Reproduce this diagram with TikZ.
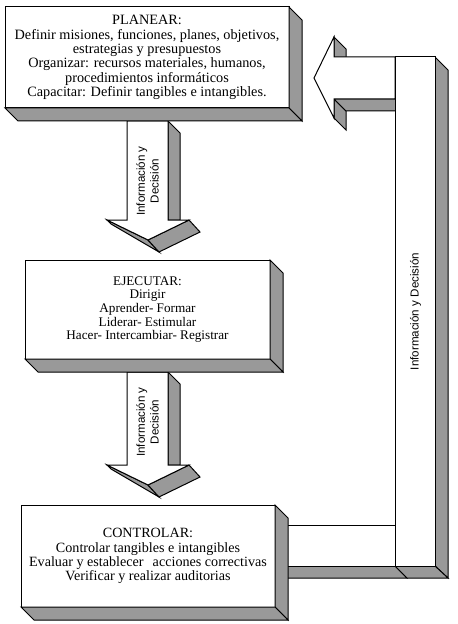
\documentclass[tikz,border=0pt]{standalone}
\usepackage{fontspec}
\setmainfont{Liberation Serif}
\newfontfamily\timesf{Liberation Serif}
\newfontfamily\arialf{Liberation Sans}
\usetikzlibrary{calc}
\definecolor{shade}{RGB}{153,153,153}
\pgfdeclarelayer{bg}\pgfsetlayers{bg,main}
\newcommand\extrudebox[1]{%
  \draw[sideface] (#1.north east) -- ++(13,13) -- ($(#1.south east)+(13,13)$) -- (#1.south east) -- cycle;
  \draw[sideface] (#1.south west) -- ($(#1.south west)+(13,13)$) -- ($(#1.south east)+(13,13)$) -- (#1.south east) -- cycle;}
\newcommand\blockdown[2]{% #1 = top centre, #2 = tip
  \draw[sideface] ($(#1)+(20.5,0)$) -- ($(#1)+(32.5,12)$) -- ($(#2)+(32,-20)$) -- ($(#2)+(20,-20)$) -- cycle;
  \draw[sideface] ($(#2)+(-41,-20)$) -- (#2) -- ($(#2)+(11,12)$) -- ($(#2)+(-37,-16)$) -- cycle;
  \draw[sideface] (#2) -- ($(#2)+(41,-20)$) -- ($(#2)+(52,-8)$) -- ($(#2)+(11,12)$) -- cycle;
  \draw[frontface] ($(#1)+(-20.5,0)$) -- ($(#2)+(-21,-20)$) -- ($(#2)+(-41,-20)$) -- (#2)
     -- ($(#2)+(41,-20)$) -- ($(#2)+(20,-20)$) -- ($(#1)+(20.5,0)$) -- cycle;}
\begin{document}
\begin{tikzpicture}[x=0.75pt,y=-0.75pt,
  sideface/.style={fill=shade,draw=black,line width=0.75pt,line join=miter},
  frontface/.style={fill=white,draw=black,line width=0.75pt,line join=miter},
  procbox/.style={frontface,inner sep=0pt,outer sep=0pt,align=center},
  vlabel/.style={rotate=90,align=center,inner sep=0pt,
    font=\arialf\fontsize{8.7}{10.2}\selectfont}]
\useasboundingbox (0,0) rectangle (457,624);

% boxes
\node[procbox,minimum width=213pt,minimum height=75.75pt,
      font=\timesf\fontsize{10.7}{10.8}\selectfont] (plan) at (147,57.5)
  {PLANEAR:\\Definir misiones, funciones, planes, objetivos,\\estrategias y presupuestos\\
   Organizar: recursos materiales, humanos,\\procedimientos inform\'aticos\\
   Capacitar: Definir tangibles e intangibles.};
\extrudebox{plan}
\node[procbox,minimum width=183.75pt,minimum height=74.25pt,
      font=\timesf\fontsize{9.9}{10.2}\selectfont] (ejec) at (147.5,309.5)
  {EJECUTAR:\\Dirigir\\Aprender- Formar\\Liderar- Estimular\\Hacer- Intercambiar- Registrar};
\extrudebox{ejec}
\node[procbox,minimum width=190.5pt,minimum height=76.5pt,
      font=\timesf\fontsize{10.6}{10.7}\selectfont] (ctrl) at (148,556)
  {CONTROLAR:\\Controlar tangibles e intangibles\\Evaluar y establecer\ \ \hspace{1.5pt}acciones correctivas\\
   Verificar y realizar auditorias};
\extrudebox{ctrl}

% connector coordinates
\coordinate (a1top) at ($(plan.south)+(0.5,13)$);
\coordinate (a1tip) at ($(ejec.north)+(0.5,-20)$);
\coordinate (a2top) at ($(ejec.south)+(0,13)$);
\coordinate (a2tip) at ($(ctrl.north)+(0,-20)$);

\begin{pgfonlayer}{bg}
  \blockdown{a1top}{a1tip}
  \blockdown{a2top}{a2tip}
  % return arrow: gray faces
  \draw[sideface] (334,37) -- (346,49) -- (346,69) -- (334,57) -- cycle;
  \draw[sideface] (334,99) -- (346,111) -- (346,130) -- (334,118) -- cycle;
  \draw[sideface] (334,99) -- (395,99) -- (407,111) -- (346,111) -- cycle;
  \draw[sideface] (435,57) -- (448,70) -- (448,578) -- (435,566) -- cycle;
  \draw[sideface] (270,566) -- (395,566) -- (407,578) -- (282,578) -- cycle;
  \draw[sideface] (395,566) -- (435,566) -- (448,578) -- (407,578) -- cycle;
  % return arrow: front faces
  \draw[frontface] (314,78) -- (334,37) -- (334,57) -- (395,57) -- (395,99) -- (334,99) -- (334,118) -- cycle;
  \draw[frontface] (395,57) rectangle (435,566);
  \draw[frontface] (270,525) rectangle (395,566);
\end{pgfonlayer}

% labels
\node[vlabel] (l1) at (147.5,181) {Informaci\'on y\\Decisi\'on};
\node[vlabel] (l2) at (147.5,422) {Informaci\'on y\\Decisi\'on};
\node[vlabel] (l3) at (415.5,311.5) {Informaci\'on y Decisi\'on};
\end{tikzpicture}
\end{document}
